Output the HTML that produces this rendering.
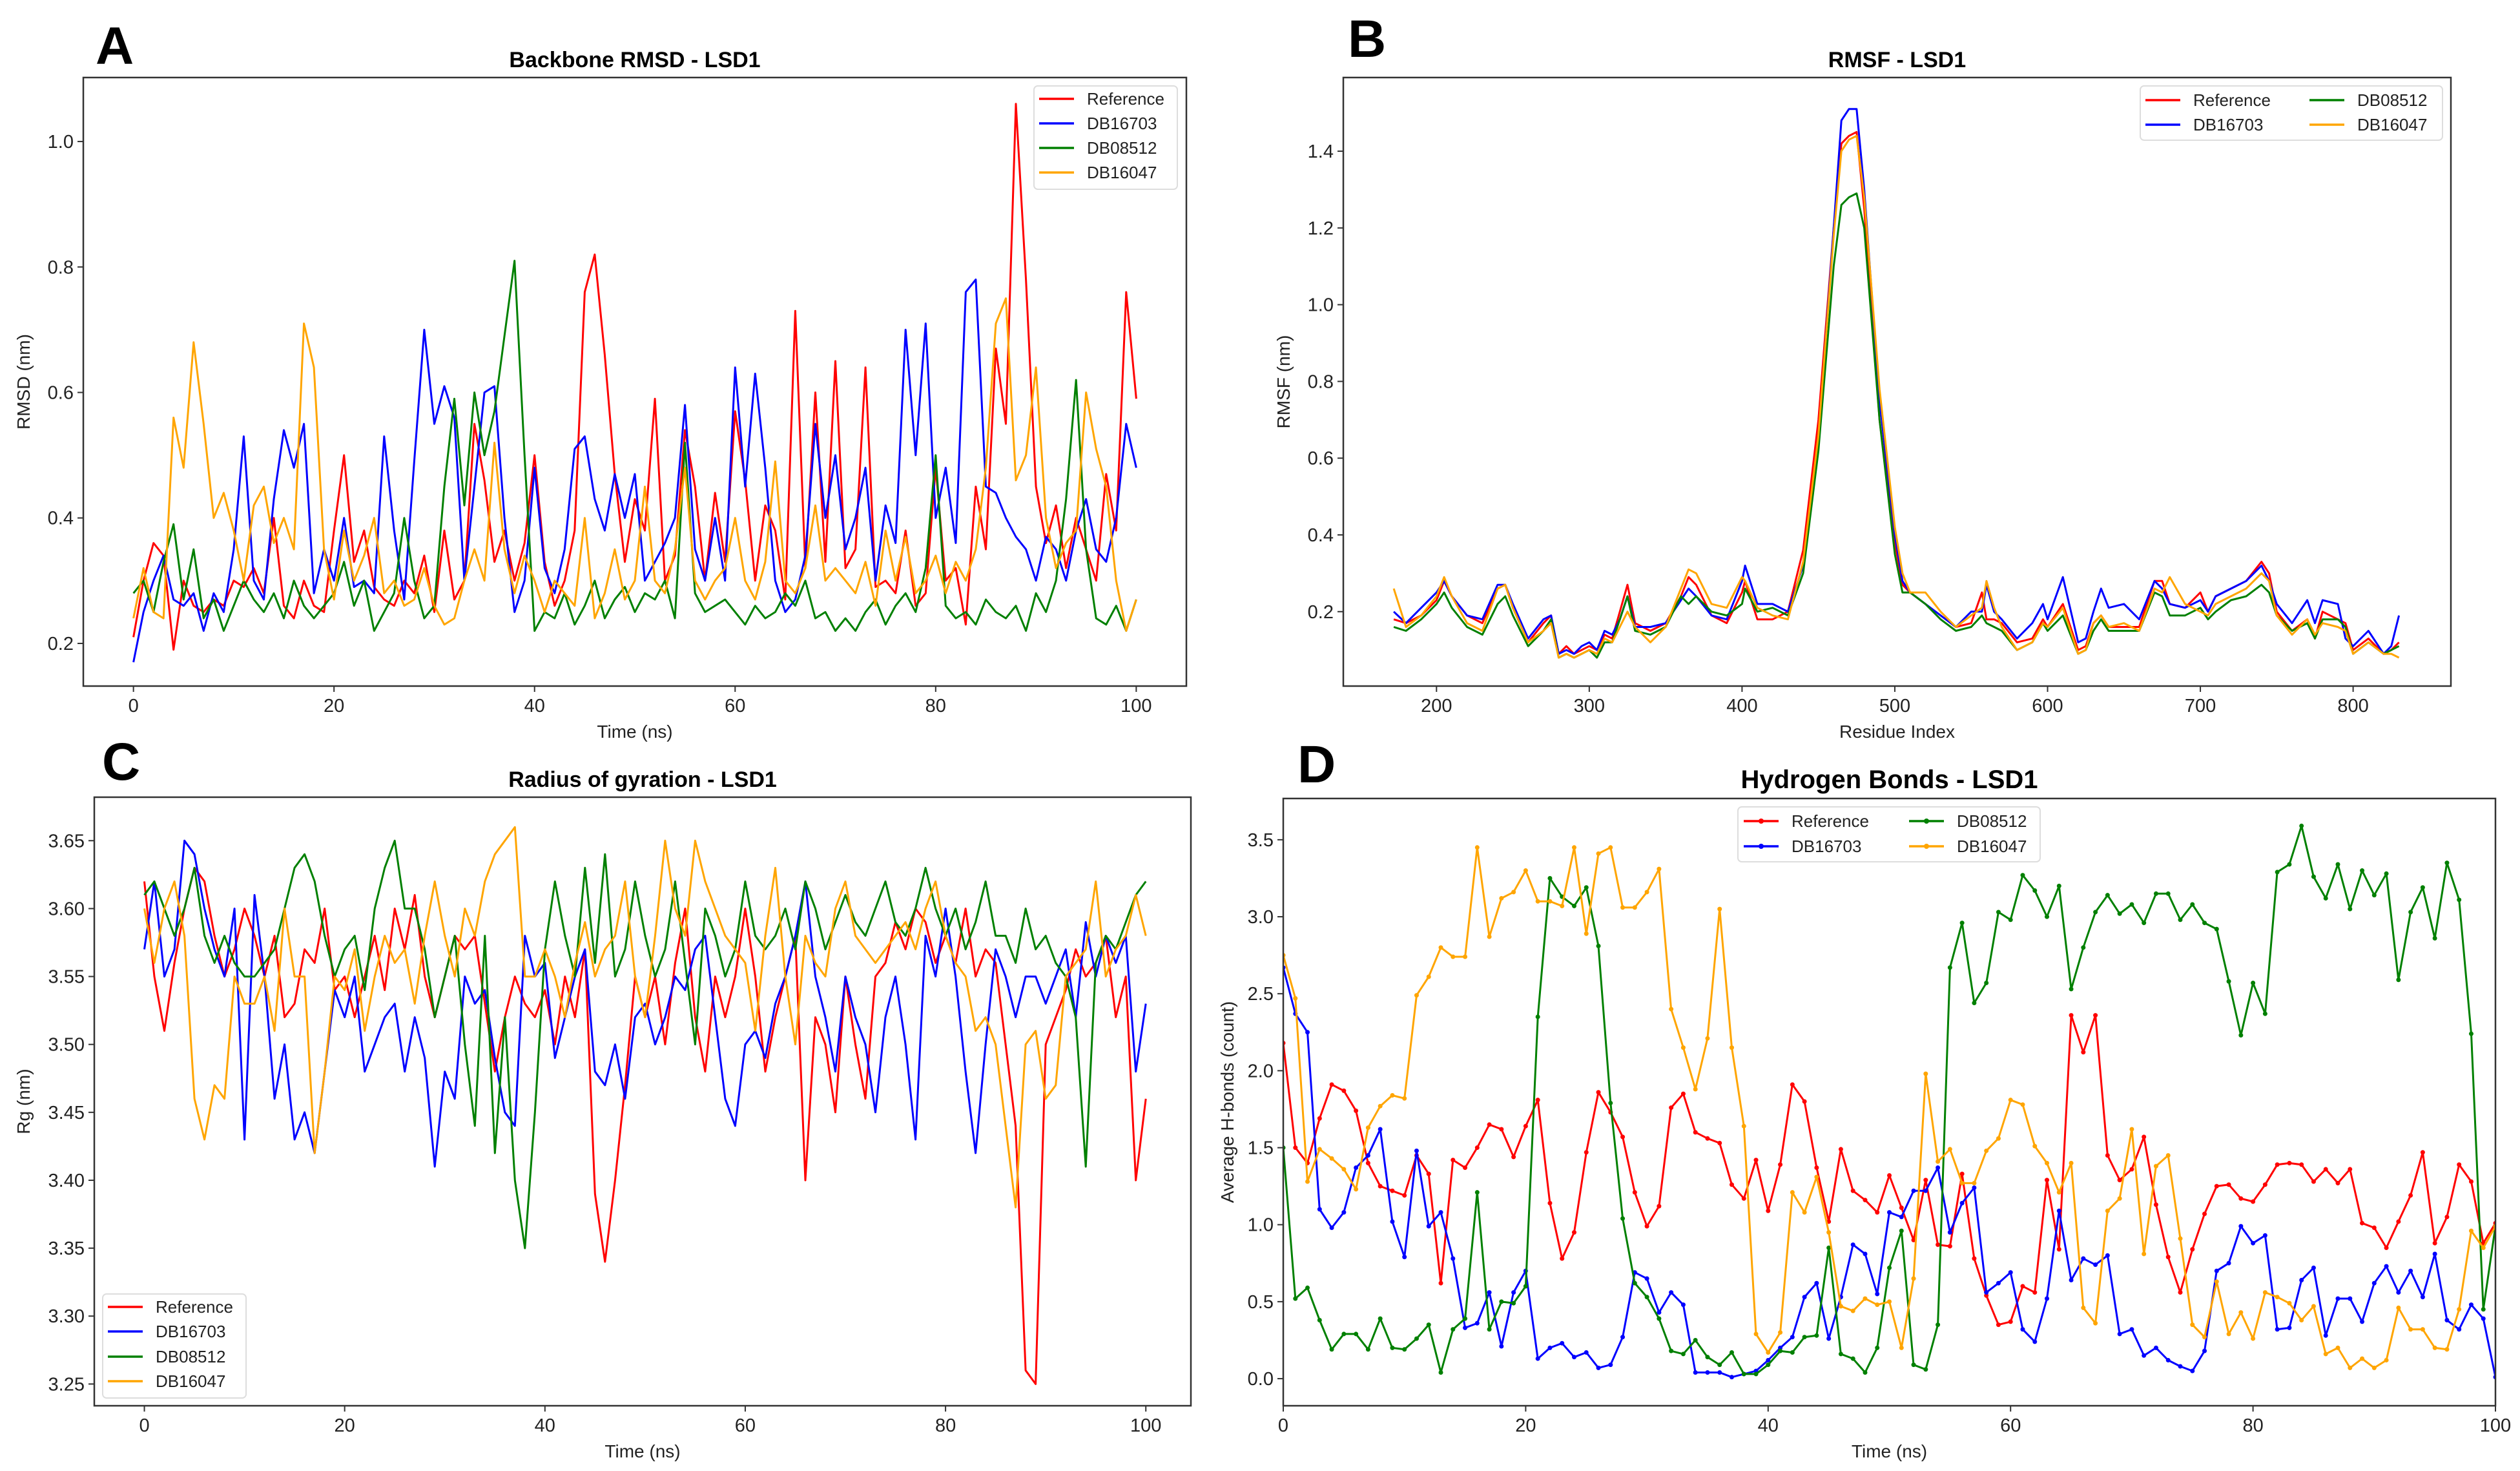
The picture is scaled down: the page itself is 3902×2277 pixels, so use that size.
<!DOCTYPE html>
<html><head><meta charset="utf-8"><style>
html,body{margin:0;padding:0;background:#fff;}
svg{display:block;font-family:"Liberation Sans",sans-serif;}
</style></head><body>
<svg id="fig" width="3902" height="2277" viewBox="0 0 3902 2277" xmlns="http://www.w3.org/2000/svg"></svg>
<script>
// ---------- Panel A: Backbone RMSD ----------
const rmsdReference=[0.21,0.30,0.36,0.34,0.19,0.30,0.26,0.25,0.27,0.26,0.30,0.29,0.32,0.28,0.40,0.26,0.24,0.30,0.26,0.25,0.38,0.50,0.33,0.38,0.29,0.27,0.26,0.30,0.28,0.34,0.25,0.38,0.27,0.30,0.55,0.46,0.33,0.38,0.30,0.36,0.50,0.33,0.26,0.30,0.38,0.76,0.82,0.66,0.47,0.33,0.43,0.38,0.59,0.30,0.34,0.54,0.45,0.30,0.44,0.33,0.57,0.46,0.30,0.42,0.38,0.27,0.73,0.32,0.60,0.33,0.65,0.32,0.35,0.64,0.29,0.30,0.28,0.38,0.26,0.28,0.48,0.30,0.32,0.23,0.45,0.35,0.67,0.55,1.06,0.78,0.45,0.36,0.42,0.32,0.40,0.35,0.30,0.47,0.38,0.76,0.59];
const rmsdDB16703=[0.17,0.25,0.30,0.34,0.27,0.26,0.28,0.22,0.28,0.25,0.35,0.53,0.30,0.27,0.43,0.54,0.48,0.55,0.28,0.35,0.30,0.40,0.29,0.30,0.28,0.53,0.38,0.27,0.49,0.70,0.55,0.61,0.56,0.30,0.45,0.60,0.61,0.40,0.25,0.30,0.48,0.32,0.28,0.35,0.51,0.53,0.43,0.38,0.47,0.40,0.47,0.30,0.33,0.36,0.40,0.58,0.35,0.30,0.40,0.30,0.64,0.45,0.63,0.48,0.30,0.25,0.27,0.34,0.55,0.40,0.50,0.35,0.40,0.48,0.30,0.42,0.36,0.70,0.50,0.71,0.40,0.48,0.36,0.76,0.78,0.45,0.44,0.40,0.37,0.35,0.30,0.37,0.35,0.30,0.38,0.43,0.35,0.33,0.40,0.55,0.48];
const rmsdDB08512=[0.28,0.30,0.25,0.33,0.39,0.27,0.35,0.24,0.27,0.22,0.26,0.30,0.27,0.25,0.28,0.24,0.30,0.26,0.24,0.26,0.28,0.33,0.26,0.30,0.22,0.25,0.28,0.40,0.30,0.24,0.26,0.45,0.59,0.42,0.60,0.50,0.57,0.69,0.81,0.50,0.22,0.25,0.24,0.28,0.23,0.26,0.30,0.24,0.27,0.29,0.25,0.28,0.27,0.30,0.24,0.52,0.28,0.25,0.26,0.27,0.25,0.23,0.26,0.24,0.25,0.28,0.26,0.30,0.24,0.25,0.22,0.24,0.22,0.25,0.27,0.23,0.26,0.28,0.25,0.32,0.50,0.26,0.24,0.25,0.23,0.27,0.25,0.24,0.26,0.22,0.28,0.25,0.30,0.43,0.62,0.35,0.24,0.23,0.26,0.22,0.27];
const rmsdDB16047=[0.24,0.32,0.25,0.24,0.56,0.48,0.68,0.55,0.40,0.44,0.38,0.30,0.42,0.45,0.36,0.40,0.35,0.71,0.64,0.35,0.27,0.38,0.30,0.34,0.40,0.28,0.30,0.26,0.27,0.32,0.26,0.23,0.24,0.30,0.35,0.30,0.52,0.35,0.28,0.34,0.30,0.25,0.30,0.28,0.26,0.40,0.24,0.28,0.35,0.27,0.30,0.45,0.30,0.28,0.35,0.48,0.30,0.27,0.30,0.32,0.40,0.30,0.27,0.33,0.49,0.30,0.28,0.32,0.42,0.30,0.32,0.30,0.28,0.33,0.26,0.38,0.30,0.37,0.28,0.30,0.34,0.28,0.33,0.30,0.35,0.48,0.71,0.75,0.46,0.50,0.64,0.40,0.32,0.36,0.38,0.60,0.51,0.45,0.30,0.22,0.27];
const rmsdYTicks=[0.2,0.4,0.6,0.8,1.0];
const timeTicks=[0,20,40,60,80,100];

// ---------- Panel B: RMSF ----------
const residues=[172,180,190,200,205,210,220,230,240,245,250,260,270,275,280,285,290,295,300,305,310,315,320,325,330,340,350,360,365,370,380,390,400,402,410,420,430,440,450,460,465,470,475,480,490,500,505,510,520,530,540,550,557,560,565,570,580,590,597,600,610,620,625,630,635,640,650,660,670,675,680,690,700,705,710,720,730,740,745,750,760,770,775,780,790,795,800,810,820,825,830];
const rmsfDB16703=[0.20,0.17,0.21,0.25,0.28,0.24,0.19,0.18,0.27,0.27,0.22,0.13,0.18,0.19,0.09,0.10,0.09,0.11,0.12,0.10,0.15,0.14,0.18,0.24,0.16,0.16,0.17,0.23,0.26,0.24,0.19,0.18,0.28,0.32,0.22,0.22,0.20,0.32,0.65,1.20,1.48,1.51,1.51,1.30,0.75,0.40,0.28,0.25,0.22,0.19,0.16,0.20,0.20,0.27,0.20,0.18,0.13,0.17,0.22,0.18,0.29,0.12,0.13,0.20,0.26,0.21,0.22,0.18,0.28,0.26,0.22,0.21,0.23,0.20,0.24,0.26,0.28,0.32,0.28,0.22,0.17,0.23,0.17,0.23,0.22,0.13,0.11,0.15,0.09,0.11,0.19];
const rmsfReference=[0.18,0.17,0.19,0.23,0.28,0.24,0.19,0.17,0.26,0.27,0.21,0.12,0.17,0.19,0.09,0.11,0.09,0.10,0.11,0.10,0.14,0.13,0.20,0.27,0.17,0.15,0.17,0.24,0.29,0.27,0.19,0.17,0.25,0.28,0.18,0.18,0.20,0.36,0.70,1.20,1.42,1.44,1.45,1.25,0.70,0.38,0.27,0.25,0.22,0.19,0.16,0.17,0.25,0.18,0.18,0.17,0.12,0.13,0.18,0.16,0.22,0.10,0.11,0.17,0.19,0.16,0.16,0.16,0.28,0.28,0.22,0.21,0.25,0.20,0.24,0.26,0.28,0.33,0.30,0.20,0.15,0.18,0.13,0.20,0.18,0.17,0.10,0.13,0.09,0.10,0.12];
const rmsfDB08512=[0.16,0.15,0.18,0.22,0.25,0.21,0.16,0.14,0.22,0.24,0.19,0.11,0.15,0.18,0.08,0.09,0.08,0.09,0.10,0.08,0.12,0.12,0.18,0.24,0.15,0.14,0.16,0.24,0.22,0.24,0.20,0.19,0.22,0.26,0.20,0.21,0.19,0.30,0.62,1.10,1.26,1.28,1.29,1.20,0.70,0.35,0.25,0.25,0.22,0.18,0.15,0.16,0.19,0.17,0.16,0.15,0.10,0.12,0.17,0.15,0.19,0.09,0.10,0.15,0.18,0.15,0.15,0.15,0.25,0.24,0.19,0.19,0.21,0.18,0.20,0.23,0.24,0.27,0.25,0.19,0.15,0.17,0.13,0.18,0.18,0.16,0.09,0.12,0.09,0.10,0.11];
const rmsfDB16047=[0.26,0.16,0.19,0.24,0.29,0.24,0.17,0.15,0.26,0.27,0.21,0.12,0.15,0.17,0.08,0.09,0.08,0.09,0.10,0.09,0.13,0.12,0.16,0.20,0.16,0.12,0.16,0.26,0.31,0.30,0.22,0.21,0.29,0.28,0.21,0.19,0.18,0.33,0.66,1.18,1.40,1.43,1.44,1.28,0.78,0.42,0.30,0.25,0.25,0.20,0.16,0.19,0.21,0.28,0.21,0.16,0.10,0.12,0.17,0.16,0.21,0.09,0.10,0.17,0.19,0.16,0.17,0.15,0.26,0.25,0.29,0.22,0.20,0.19,0.22,0.24,0.26,0.30,0.28,0.19,0.14,0.18,0.14,0.17,0.16,0.15,0.09,0.12,0.09,0.09,0.08];
const rmsfXTicks=[200,300,400,500,600,700,800];
const rmsfYTicks=[0.2,0.4,0.6,0.8,1.0,1.2,1.4];

// ---------- Panel C: Radius of gyration ----------
const rgReference=[3.62,3.55,3.51,3.56,3.60,3.63,3.62,3.58,3.55,3.57,3.60,3.58,3.55,3.58,3.52,3.53,3.57,3.56,3.60,3.54,3.55,3.52,3.55,3.58,3.54,3.60,3.57,3.61,3.55,3.52,3.55,3.58,3.57,3.58,3.53,3.48,3.52,3.55,3.53,3.52,3.54,3.50,3.55,3.52,3.57,3.39,3.34,3.40,3.47,3.55,3.52,3.55,3.50,3.56,3.60,3.52,3.48,3.55,3.52,3.55,3.60,3.55,3.48,3.52,3.55,3.58,3.40,3.52,3.50,3.45,3.55,3.50,3.46,3.55,3.56,3.59,3.57,3.60,3.59,3.56,3.58,3.56,3.60,3.55,3.57,3.56,3.50,3.44,3.26,3.25,3.50,3.52,3.54,3.57,3.55,3.56,3.58,3.52,3.55,3.40,3.46];
const rgDB16703=[3.57,3.62,3.55,3.57,3.65,3.64,3.60,3.57,3.55,3.60,3.43,3.61,3.55,3.46,3.50,3.43,3.45,3.42,3.48,3.54,3.52,3.55,3.48,3.50,3.52,3.53,3.48,3.52,3.49,3.41,3.48,3.46,3.55,3.53,3.54,3.49,3.45,3.44,3.58,3.55,3.56,3.49,3.52,3.55,3.57,3.48,3.47,3.50,3.46,3.52,3.53,3.50,3.52,3.55,3.54,3.57,3.58,3.52,3.46,3.44,3.50,3.51,3.49,3.53,3.55,3.58,3.62,3.55,3.52,3.48,3.55,3.52,3.50,3.45,3.52,3.55,3.50,3.43,3.58,3.55,3.60,3.55,3.48,3.42,3.50,3.57,3.55,3.52,3.55,3.55,3.53,3.55,3.57,3.52,3.59,3.55,3.58,3.56,3.58,3.48,3.53];
const rgDB08512=[3.61,3.62,3.60,3.58,3.60,3.63,3.58,3.56,3.58,3.56,3.55,3.55,3.56,3.57,3.60,3.63,3.64,3.62,3.58,3.55,3.57,3.58,3.54,3.60,3.63,3.65,3.60,3.60,3.57,3.52,3.55,3.58,3.50,3.44,3.58,3.42,3.52,3.40,3.35,3.45,3.57,3.62,3.58,3.55,3.63,3.56,3.64,3.55,3.57,3.62,3.58,3.55,3.57,3.62,3.56,3.50,3.60,3.58,3.55,3.57,3.62,3.58,3.57,3.58,3.60,3.57,3.62,3.60,3.57,3.59,3.61,3.59,3.58,3.60,3.62,3.59,3.58,3.60,3.63,3.60,3.58,3.60,3.57,3.59,3.62,3.58,3.58,3.56,3.60,3.57,3.58,3.56,3.55,3.52,3.41,3.56,3.58,3.57,3.59,3.61,3.62];
const rgDB16047=[3.60,3.56,3.60,3.62,3.58,3.46,3.43,3.47,3.46,3.55,3.53,3.53,3.55,3.51,3.60,3.55,3.55,3.42,3.48,3.55,3.54,3.57,3.51,3.55,3.58,3.56,3.57,3.53,3.58,3.62,3.58,3.55,3.60,3.58,3.62,3.64,3.65,3.66,3.55,3.55,3.57,3.55,3.52,3.56,3.59,3.55,3.57,3.58,3.62,3.55,3.52,3.58,3.65,3.60,3.58,3.65,3.62,3.60,3.58,3.57,3.56,3.51,3.58,3.63,3.55,3.50,3.58,3.56,3.55,3.60,3.62,3.58,3.57,3.56,3.57,3.58,3.59,3.57,3.60,3.62,3.58,3.56,3.55,3.51,3.52,3.50,3.44,3.38,3.50,3.51,3.46,3.47,3.55,3.56,3.57,3.62,3.55,3.57,3.58,3.61,3.58];
const rgYTicks=[3.25,3.30,3.35,3.40,3.45,3.50,3.55,3.60,3.65];

// ---------- Panel D: Hydrogen bonds ----------
const hbReference=[2.18,1.50,1.40,1.69,1.91,1.87,1.74,1.40,1.25,1.22,1.19,1.45,1.33,0.62,1.42,1.37,1.50,1.65,1.62,1.44,1.64,1.81,1.14,0.78,0.95,1.47,1.86,1.73,1.57,1.21,0.99,1.12,1.76,1.85,1.60,1.56,1.53,1.26,1.17,1.42,1.09,1.39,1.91,1.80,1.37,1.02,1.49,1.22,1.16,1.08,1.32,1.11,0.90,1.29,0.87,0.86,1.33,0.78,0.54,0.35,0.37,0.60,0.56,1.29,0.84,2.36,2.12,2.36,1.45,1.29,1.36,1.57,1.13,0.79,0.56,0.84,1.07,1.25,1.26,1.17,1.15,1.26,1.39,1.40,1.39,1.28,1.36,1.27,1.36,1.01,0.98,0.85,1.02,1.19,1.47,0.88,1.05,1.39,1.28,0.88,1.01];
const hbDB16703=[2.67,2.37,2.25,1.10,0.98,1.08,1.37,1.45,1.62,1.02,0.79,1.48,0.99,1.08,0.78,0.33,0.36,0.56,0.21,0.56,0.70,0.13,0.20,0.23,0.14,0.17,0.07,0.09,0.27,0.69,0.65,0.43,0.56,0.48,0.04,0.04,0.04,0.01,0.03,0.05,0.12,0.20,0.27,0.53,0.62,0.26,0.53,0.87,0.81,0.55,1.08,1.05,1.22,1.22,1.37,0.95,1.14,1.24,0.56,0.62,0.69,0.32,0.24,0.52,1.09,0.64,0.78,0.74,0.80,0.29,0.32,0.15,0.20,0.12,0.08,0.05,0.18,0.70,0.75,0.99,0.88,0.93,0.32,0.33,0.64,0.72,0.28,0.52,0.52,0.37,0.62,0.73,0.56,0.70,0.53,0.81,0.38,0.32,0.48,0.39,0.01];
const hbDB08512=[1.50,0.52,0.59,0.38,0.19,0.29,0.29,0.19,0.39,0.20,0.19,0.26,0.35,0.04,0.32,0.39,1.21,0.32,0.50,0.49,0.60,2.35,3.25,3.13,3.07,3.19,2.81,1.79,1.04,0.62,0.53,0.39,0.18,0.16,0.25,0.14,0.09,0.17,0.03,0.03,0.09,0.18,0.17,0.27,0.28,0.85,0.16,0.13,0.04,0.20,0.72,0.96,0.09,0.06,0.35,2.67,2.96,2.44,2.57,3.03,2.98,3.27,3.17,3.00,3.20,2.53,2.80,3.03,3.14,3.02,3.08,2.96,3.15,3.15,2.98,3.08,2.96,2.92,2.58,2.23,2.57,2.37,3.29,3.34,3.59,3.26,3.12,3.34,3.05,3.30,3.14,3.28,2.59,3.03,3.19,2.86,3.35,3.11,2.24,0.45,0.99];
const hbDB16047=[2.75,2.47,1.28,1.49,1.43,1.36,1.23,1.63,1.77,1.84,1.82,2.49,2.61,2.80,2.74,2.74,3.45,2.87,3.12,3.16,3.30,3.10,3.10,3.07,3.45,2.89,3.41,3.45,3.06,3.06,3.16,3.31,2.40,2.15,1.88,2.21,3.05,2.15,1.64,0.29,0.17,0.30,1.21,1.08,1.31,0.95,0.47,0.44,0.52,0.48,0.50,0.20,0.65,1.98,1.41,1.49,1.27,1.27,1.48,1.56,1.81,1.78,1.51,1.40,1.21,1.40,0.46,0.36,1.09,1.17,1.62,0.81,1.38,1.45,0.91,0.35,0.27,0.63,0.29,0.43,0.26,0.56,0.53,0.49,0.38,0.47,0.16,0.20,0.07,0.13,0.07,0.12,0.46,0.32,0.32,0.20,0.19,0.45,0.96,0.85,0.99];
const hbYTicks=[0.0,0.5,1.0,1.5,2.0,2.5,3.0,3.5];
const seriesNames=["Reference","DB16703","DB08512","DB16047"];
const seriesColors=["#ff0000","#0000ff","#008000","#ffa500"];

const NS="http://www.w3.org/2000/svg";
const fig=document.getElementById('fig');
function mk(tag,attrs,parent){const e=document.createElementNS(NS,tag);for(const k in attrs)e.setAttribute(k,attrs[k]);(parent||fig).appendChild(e);return e;}
function txt(s,attrs,parent){const e=mk('text',attrs,parent);e.textContent=s;return e;}
function idx(arr){return arr.map((_,i)=>i);}

function panel(c){
  const g=mk('g',{});
  
  
  const [L,T,R,B]=c.box;
  const sx=v=>L+(v-c.xlim[0])/(c.xlim[1]-c.xlim[0])*(R-L);
  const sy=v=>B-(v-c.ylim[0])/(c.ylim[1]-c.ylim[0])*(B-T);
  const clipId='clip-'+c.key;
  const cp=mk('clipPath',{id:clipId},g);mk('rect',{x:L,y:T,width:R-L,height:B-T},cp);
  const lettr=txt(c.letter,{x:c.letterPos[0],y:c.letterPos[1],'font-size':82,'font-weight':'bold',fill:'#000'},g);
  
  
  const tt=txt(c.title,{x:(L+R)/2,y:T-16,'font-size':c.titleSize||34,'font-weight':'bold','text-anchor':'middle',fill:'#000'},g);
  
  
  const plot=mk('g',{'clip-path':'url(#'+clipId+')'},g);
  c.series.forEach((s,si)=>{
    const pts=s.ys.map((y,i)=>sx(s.xs[i]).toFixed(1)+','+sy(y).toFixed(1)).join(' ');
    const pl=mk('polyline',{points:pts,fill:'none',stroke:seriesColors[si],'stroke-width':3,'stroke-linejoin':'round'},plot);
    
    
    if(c.markers){s.ys.forEach((y,i)=>{const m=mk('circle',{cx:sx(s.xs[i]),cy:sy(y),r:3.5,fill:seriesColors[si]},plot);
      
      });}
  });
  const fr=mk('rect',{x:L,y:T,width:R-L,height:B-T,fill:'none',stroke:'#333','stroke-width':2.5},g);
  
  
  c.xticks.forEach(v=>{const x=sx(v);mk('line',{x1:x,x2:x,y1:B,y2:B+9,stroke:'#333','stroke-width':2},g);
    const t=txt(String(v),{x:x,y:B+40,'font-size':29,'text-anchor':'middle',fill:'#222'},g);
    
    });
  c.yticks.forEach(v=>{const y=sy(v);mk('line',{x1:L-9,x2:L,y1:y,y2:y,stroke:'#333','stroke-width':2},g);
    const t=txt(v.toFixed(c.ydec),{x:L-15,y:y+10,'font-size':29,'text-anchor':'end',fill:'#222'},g);
    
    });
  const xl=txt(c.xlabel,{x:(L+R)/2,y:B+80,'font-size':28,'text-anchor':'middle',fill:'#222'},g);
  
  
  const ymid=(T+B)/2;
  const yl=txt(c.ylabel,{x:c.ylabelX,y:ymid,'font-size':28,'text-anchor':'middle',fill:'#222',transform:'rotate(-90 '+c.ylabelX+' '+ymid+')'},g);
  
  
  const lg=c.legend;
  const lgG=mk('g',{},g);
  
  
  mk('rect',{x:lg.box[0],y:lg.box[1],width:lg.box[2],height:lg.box[3],rx:6,fill:'#fff','fill-opacity':0.85,stroke:'#ddd','stroke-width':2},lgG);
  lg.items.forEach((it,i)=>{
    const e=mk('g',{},lgG);
    
    
    mk('line',{x1:it.x,x2:it.x+54,y1:it.y,y2:it.y,stroke:seriesColors[it.s],'stroke-width':3.5},e);
    if(c.markers)mk('circle',{cx:it.x+27,cy:it.y,r:4,fill:seriesColors[it.s]},e);
    txt(seriesNames[it.s],{x:it.x+74,y:it.y+9,'font-size':26,fill:'#222'},e);
  });
}

panel({key:'a',letter:'A',letterPos:[148,99],title:'Backbone RMSD - LSD1',box:[129,120,1837,1062],xlim:[-5,105],ylim:[0.132,1.102],
  xticks:timeTicks,yticks:rmsdYTicks,ydec:1,xlabel:'Time (ns)',ylabel:'RMSD (nm)',ylabelX:46,
  series:[{xs:idx(rmsdReference),ys:rmsdReference},{xs:idx(rmsdDB16703),ys:rmsdDB16703},{xs:idx(rmsdDB08512),ys:rmsdDB08512},{xs:idx(rmsdDB16047),ys:rmsdDB16047}],
  legend:{box:[1601,133,222,160],items:[{s:0,x:1609,y:153},{s:1,x:1609,y:191},{s:2,x:1609,y:229},{s:3,x:1609,y:267}]}});

panel({key:'b',letter:'B',letterPos:[2087,88],title:'RMSF - LSD1',box:[2080,120,3795,1062],xlim:[139,864],ylim:[0.006,1.592],
  xticks:rmsfXTicks,yticks:rmsfYTicks,ydec:1,xlabel:'Residue Index',ylabel:'RMSF (nm)',ylabelX:1997,
  series:[{xs:residues,ys:rmsfReference},{xs:residues,ys:rmsfDB16703},{xs:residues,ys:rmsfDB08512},{xs:residues,ys:rmsfDB16047}],
  legend:{box:[3314,133,468,84],items:[{s:0,x:3322,y:155},{s:1,x:3322,y:193},{s:2,x:3576,y:155},{s:3,x:3576,y:193}]}});

panel({key:'c',letter:'C',letterPos:[158,1207],title:'Radius of gyration - LSD1',box:[146,1234,1844,2176],xlim:[-5,104.5],ylim:[3.234,3.682],
  xticks:timeTicks,yticks:rgYTicks,ydec:2,xlabel:'Time (ns)',ylabel:'Rg (nm)',ylabelX:46,
  series:[{xs:idx(rgReference),ys:rgReference},{xs:idx(rgDB16703),ys:rgDB16703},{xs:idx(rgDB08512),ys:rgDB08512},{xs:idx(rgDB16047),ys:rgDB16047}],
  legend:{box:[159,2003,222,161],items:[{s:0,x:167,y:2023},{s:1,x:167,y:2061},{s:2,x:167,y:2100},{s:3,x:167,y:2138}]}});

panel({key:'d',letter:'D',letterPos:[2009,1211],title:'Hydrogen Bonds - LSD1',titleSize:40,box:[1987,1236,3864,2176],xlim:[0,100],ylim:[-0.176,3.768],markers:true,
  xticks:timeTicks,yticks:hbYTicks,ydec:1,xlabel:'Time (ns)',ylabel:'Average H-bonds (count)',ylabelX:1910,
  series:[{xs:idx(hbReference),ys:hbReference},{xs:idx(hbDB16703),ys:hbDB16703},{xs:idx(hbDB08512),ys:hbDB08512},{xs:idx(hbDB16047),ys:hbDB16047}],
  legend:{box:[2691,1249,468,85],items:[{s:0,x:2700,y:1271},{s:1,x:2700,y:1310},{s:2,x:2956,y:1271},{s:3,x:2956,y:1310}]}});
</script>
</body></html>
